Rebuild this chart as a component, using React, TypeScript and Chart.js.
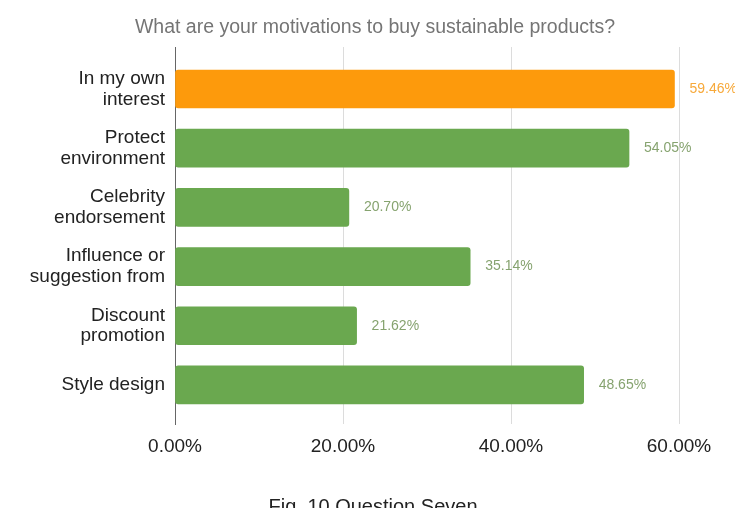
import React, { useEffect, useRef } from "react";
import { Chart, registerables } from "chart.js";

Chart.register(...registerables);

const titleText = "What are your motivations to buy sustainable products?";
const captionText = "Fig. 10 Question Seven";
const categories: string[][] = [
  ["In my own", "interest"],
  ["Protect", "environment"],
  ["Celebrity", "endorsement"],
  ["Influence or", "suggestion from"],
  ["Discount", "promotion"],
  ["Style design"],
];
const values = [59.46, 54.05, 20.7, 35.14, 21.62, 48.65];
const barColors = ["#fd9a0c", "#6aa84f", "#6aa84f", "#6aa84f", "#6aa84f", "#6aa84f"];
const valueLabelColors = ["#f7a93a", "#86a36f", "#86a36f", "#86a36f", "#86a36f", "#86a36f"];
const xTickValues = [0, 20, 40, 60];

const FONT = "'Liberation Sans', Arial, sans-serif";

const textPlugin = {
  id: "textPlugin",
  afterDatasetsDraw(chart: any) {
    const ctx = chart.ctx;
    const meta = chart.getDatasetMeta(0);
    ctx.save();
    ctx.font = `14px ${FONT}`;
    ctx.textAlign = "left";
    ctx.textBaseline = "middle";
    meta.data.forEach((bar: any, i: number) => {
      ctx.fillStyle = valueLabelColors[i];
      ctx.fillText(values[i].toFixed(2) + "%", bar.x + 15, bar.y);
    });
    ctx.restore();
  },
  afterDraw(chart: any) {
    const ctx = chart.ctx;
    ctx.save();
    ctx.textAlign = "center";
    ctx.font = `19.5px ${FONT}`;
    ctx.fillStyle = "#757575";
    ctx.textBaseline = "middle";
    ctx.fillText(titleText, 375, 28);
    ctx.font = `20px ${FONT}`;
    ctx.fillStyle = "#222";
    ctx.textBaseline = "alphabetic";
    ctx.fillText(captionText, 373, 513);
    ctx.restore();
  },
};

export default function App() {
  const ref = useRef<HTMLCanvasElement | null>(null);
  useEffect(() => {
    if (!ref.current) return;
    const chart = new Chart(ref.current, {
      type: "bar",
      data: {
        datasets: [
          {
            data: values.map((v, i) => ({ x: v, y: i })),
            backgroundColor: barColors,
            borderRadius: 3,
            borderSkipped: false,
            barThickness: 38,
          },
        ],
      },
      options: {
        indexAxis: "y",
        responsive: false,
        animation: false,
        layout: { padding: { top: 47, right: 56, bottom: 50, left: 0 } },
        plugins: {
          legend: { display: false },
          title: { display: false },
          tooltip: { enabled: false },
        },
        scales: {
          x: {
            type: "linear",
            min: 0,
            max: 60,
            offset: false,
            afterBuildTicks: (s: any) => {
              s.ticks = xTickValues.map((v) => ({ value: v }));
            },
            ticks: {
              callback: (v: any) => Number(v).toFixed(2) + "%",
              font: { size: 19, family: FONT },
              color: "#222",
              padding: 11,
              maxRotation: 0,
            },
            grid: {
              color: (c: any) => (c.tick && c.tick.value === 0 ? "#666" : "#dcdcdc"),
              drawTicks: false,
            },
            border: { display: false },
            afterFit: (s: any) => {
              s.height = 34;
            },
          },
          y: {
            type: "linear",
            reverse: true,
            offset: false,
            min: -0.71,
            max: 5.66,
            afterBuildTicks: (s: any) => {
              s.ticks = categories.map((_, i) => ({ value: i }));
            },
            ticks: {
              callback: (v: any) => categories[v] ?? "",
              font: { size: 19, family: FONT, lineHeight: 1.1 },
              color: "#222",
              padding: 10,
            },
            grid: { display: false, drawTicks: false, offset: false },
            border: { display: true, color: "#666", width: 1 },
            afterFit: (s: any) => {
              s.width = 175;
            },
          },
        },
      },
      plugins: [textPlugin],
    } as any);
    return () => chart.destroy();
  }, []);
  return (
    <div style={{ position: "fixed", left: 0, top: 0, width: 735, height: 508, background: "#fff" }}>
      <canvas ref={ref} width={735} height={508} style={{ width: 735, height: 508, display: "block" }} />
    </div>
  );
}
